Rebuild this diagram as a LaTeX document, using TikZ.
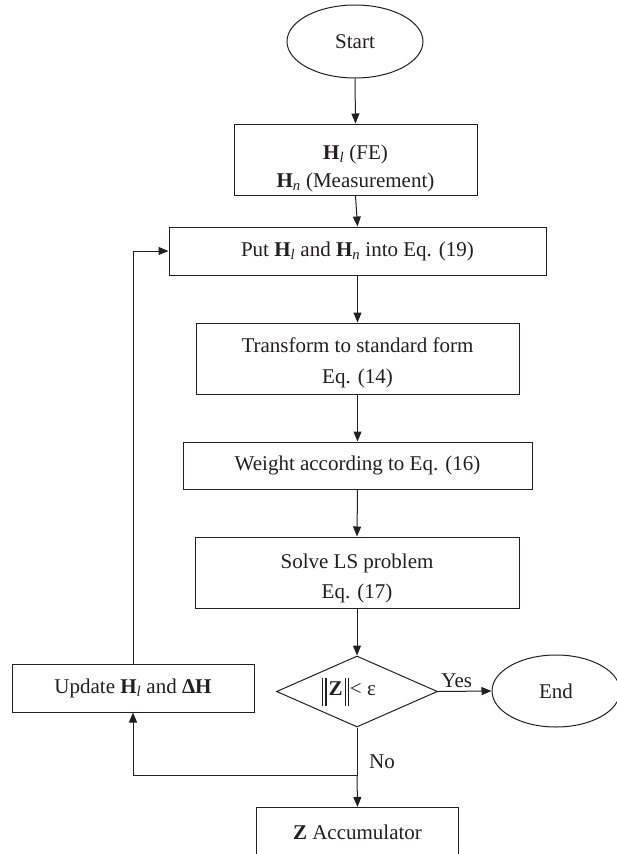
\documentclass[tikz,border=0pt]{standalone}
\usepackage{fontspec}
\setmainfont{Liberation Serif}
\usetikzlibrary{shapes.geometric,arrows.meta,calc}
\definecolor{ink}{HTML}{231F20}
\newcommand{\dblbar}{\rule[-10pt]{1.1pt}{28pt}\kern2.2pt\rule[-10pt]{1.1pt}{28pt}}
\begin{document}
\begin{tikzpicture}[x=1pt,y=-1pt,
  every node/.style={font=\fontsize{21}{26}\selectfont, text=ink},
  box/.style={draw=ink, line width=1pt, rectangle, inner sep=0pt, align=center},
  oval/.style={draw=ink, line width=1pt, ellipse, inner sep=0pt},
  decision/.style={draw=ink, line width=1pt, diamond, inner sep=0pt, aspect=2.27},
  conn/.style={draw=ink, line width=1pt},
  arr/.style={conn, -{Triangle[length=10pt,width=8pt]}}]
\clip (0,0) rectangle (617,854);
\fill[white] (0,0) rectangle (617,854);

\node[oval, minimum width=136pt, minimum height=73pt] (start) at (355,41.5) {Start};
\node[box, minimum width=243pt, minimum height=71pt, font=\fontsize{21}{28}\selectfont] (b1) at (355.5,159.5)
  {\rule{0pt}{32pt}\textbf{H}\textsubscript{\textit{l}} (FE)\\ \textbf{H}\textsubscript{\textit{n}} (Measurement)};
\node[box, minimum width=377pt, minimum height=48pt] (b2) at (357.5,251)
  {Put \textbf{H}\textsubscript{\textit{l}} and \textbf{H}\textsubscript{\textit{n}} into Eq. (19)};
\node[box, minimum width=323pt, minimum height=71pt, font=\fontsize{21}{31}\selectfont] (b3) at (357.5,358.5)
  {\rule{0pt}{23pt}Transform to standard form\\Eq. (14)};
\node[box, minimum width=349pt, minimum height=47pt] (b4) at (357.5,465.5)
  {Weight according to Eq. (16)};
\node[box, minimum width=324pt, minimum height=71pt, font=\fontsize{21}{30}\selectfont] (b5) at (357,572.5)
  {\rule{0pt}{26pt}Solve LS problem\\Eq. (17)};
\node[decision, minimum width=161pt, minimum height=71pt] (dia) at (357,691.5)
  {\dblbar\kern2pt\textbf{Z}\kern2pt\dblbar\kern1pt< ε\kern16pt};
\node[oval, minimum width=128pt, minimum height=72pt] (endn) at (556,691) {End};
\node[box, minimum width=242pt, minimum height=48pt] (upd) at (133,688)
  {Update \textbf{H}\textsubscript{\textit{l}} and \textbf{ΔH}};
\node[minimum width=201pt, minimum height=50pt, inner sep=0pt, anchor=north] (zacc) at (357.5,807)
  {\textbf{Z} Accumulator};
\draw[conn] (zacc.south west) -- (zacc.north west) -- (zacc.north east) -- (zacc.south east);

\coordinate (junc) at ($(dia.south)+(0,48)$);

\draw[arr] (start.south) -- (b1.north);
\draw[arr] (b1.south) -- (b2.north);
\draw[arr] (b2.south) -- (b3.north);
\draw[arr] (b3.south) -- (b4.north);
\draw[arr] (b4.south) -- (b5.north);
\draw[arr] (b5.south) -- (dia.north);
\draw[arr] (dia.east) -- node[above, xshift=-8pt] (yes) {Yes} (endn.west);
\draw[arr] (upd.north) |- (b2.west);
\draw[conn] (dia.south) -- (junc);
\draw[arr] (junc) -| (upd.south);
\draw[arr] (junc) -- (zacc.north);
\node (no) at (382,762) {No};
\end{tikzpicture}
\end{document}
